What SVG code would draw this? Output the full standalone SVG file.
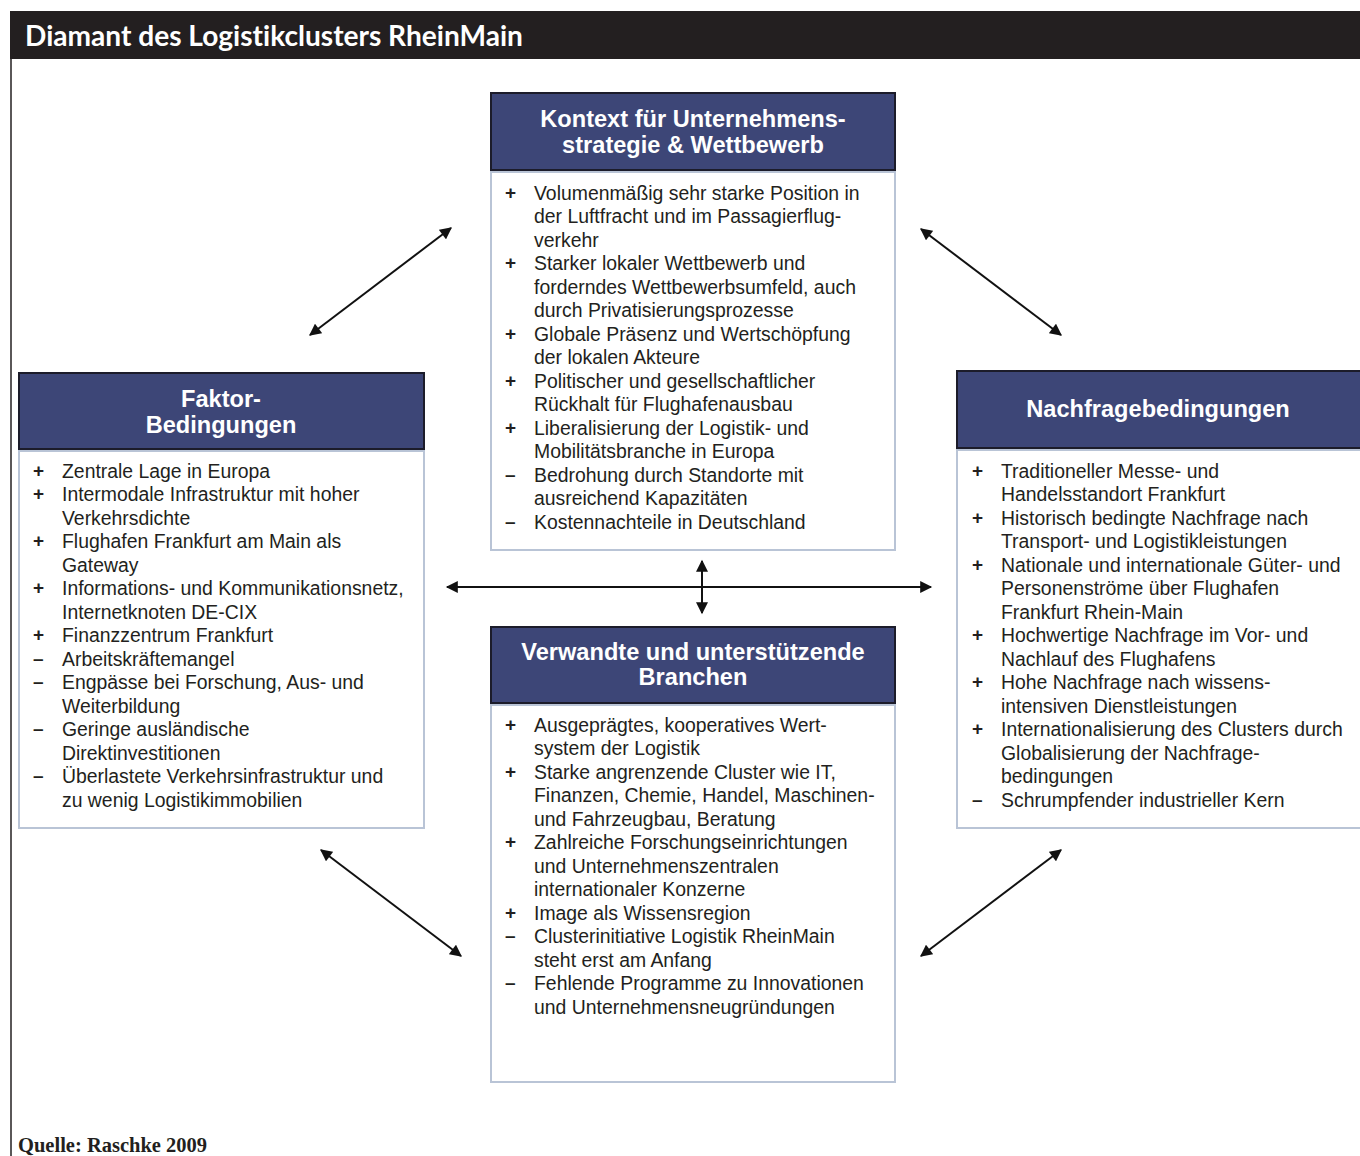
<svg xmlns="http://www.w3.org/2000/svg" width="1360" height="1156" viewBox="0 0 1360 1156">
<defs>
<marker id="ah" viewBox="0 0 10 10" refX="9" refY="5" markerWidth="6.5" markerHeight="6" orient="auto-start-reverse" markerUnits="strokeWidth">
<path d="M0,0 L10,5 L0,10 z" fill="#111"/>
</marker>
<style>
.hd{fill:#3d4677;stroke:#1c1c2a;stroke-width:2}
.bd{fill:#fff;stroke:#b9c4d6;stroke-width:2}
.ht{font-family:"Liberation Sans",Arial,sans-serif;font-weight:bold;font-size:23.6px;fill:#fff;text-anchor:middle}
.tx{font-family:"Liberation Sans",Arial,sans-serif;font-size:19.4px;fill:#231f20}
.sg{font-family:"Liberation Sans",Arial,sans-serif;font-size:19px;font-weight:bold;fill:#231f20}
.cn{stroke:#111;stroke-width:2;fill:none;marker-start:url(#ah);marker-end:url(#ah)}
</style>
</defs>
<rect x="0" y="0" width="1360" height="1156" fill="#fff"/>
<rect x="10" y="11" width="1350" height="48" fill="#231f20"/>
<line x1="11" y1="59" x2="11" y2="1156" stroke="#231f20" stroke-width="1.5"/>
<text x="25" y="46" font-family="Lato,'Open Sans',sans-serif" font-weight="bold" font-size="28.1" fill="#fff" style="font-variant-ligatures:none">Diamant des Logistikclusters RheinMain</text>
<text x="18" y="1152" font-family="'Liberation Serif','DejaVu Serif',serif" font-weight="bold" font-size="20.5" fill="#231f20">Quelle: Raschke 2009</text>

<g id="connectors">
<line class="cn" x1="310" y1="335" x2="451" y2="228"/>
<line class="cn" x1="921" y1="229" x2="1061" y2="335"/>
<line class="cn" x1="321" y1="850" x2="461" y2="956"/>
<line class="cn" x1="921" y1="956" x2="1061" y2="850"/>
<line class="cn" x1="447" y1="587" x2="931" y2="587"/>
<line class="cn" x1="702" y1="561" x2="702" y2="613"/>
</g>

<g id="node-top">
<rect class="bd" x="491" y="172" width="404" height="378"/>
<rect class="hd" x="491" y="93" width="404" height="77"/>
<text class="ht" x="693" y="127">Kontext für Unternehmens-</text>
<text class="ht" x="693" y="153">strategie &amp; Wettbewerb</text>
<g class="tx">
<text class="sg" x="505" y="199">+</text><text x="534" y="200">Volumenmäßig sehr starke Position in</text>
<text x="534" y="223">der Luftfracht und im Passagierflug-</text>
<text x="534" y="247">verkehr</text>
<text class="sg" x="505" y="269">+</text><text x="534" y="270">Starker lokaler Wettbewerb und</text>
<text x="534" y="294">forderndes Wettbewerbsumfeld, auch</text>
<text x="534" y="317">durch Privatisierungsprozesse</text>
<text class="sg" x="505" y="340">+</text><text x="534" y="341">Globale Präsenz und Wertschöpfung</text>
<text x="534" y="364">der lokalen Akteure</text>
<text class="sg" x="505" y="387">+</text><text x="534" y="388">Politischer und gesellschaftlicher</text>
<text x="534" y="411">Rückhalt für Flughafenausbau</text>
<text class="sg" x="505" y="434">+</text><text x="534" y="435">Liberalisierung der Logistik- und</text>
<text x="534" y="458">Mobilitätsbranche in Europa</text>
<text class="sg" x="505" y="481">–</text><text x="534" y="482">Bedrohung durch Standorte mit</text>
<text x="534" y="505">ausreichend Kapazitäten</text>
<text class="sg" x="505" y="528">–</text><text x="534" y="529">Kostennachteile in Deutschland</text>
</g>
</g>

<g id="node-left">
<rect class="bd" x="19" y="451" width="405" height="377"/>
<rect class="hd" x="19" y="373" width="405" height="76"/>
<text class="ht" x="221" y="407">Faktor-</text>
<text class="ht" x="221" y="433">Bedingungen</text>
<g class="tx">
<text class="sg" x="33" y="477">+</text><text x="62" y="478">Zentrale Lage in Europa</text>
<text class="sg" x="33" y="500">+</text><text x="62" y="501">Intermodale Infrastruktur mit hoher</text>
<text x="62" y="525">Verkehrsdichte</text>
<text class="sg" x="33" y="547">+</text><text x="62" y="548">Flughafen Frankfurt am Main als</text>
<text x="62" y="572">Gateway</text>
<text class="sg" x="33" y="594">+</text><text x="62" y="595">Informations- und Kommunikationsnetz,</text>
<text x="62" y="619">Internetknoten DE-CIX</text>
<text class="sg" x="33" y="641">+</text><text x="62" y="642">Finanzzentrum Frankfurt</text>
<text class="sg" x="33" y="665">–</text><text x="62" y="666">Arbeitskräftemangel</text>
<text class="sg" x="33" y="688">–</text><text x="62" y="689">Engpässe bei Forschung, Aus- und</text>
<text x="62" y="713">Weiterbildung</text>
<text class="sg" x="33" y="735">–</text><text x="62" y="736">Geringe ausländische</text>
<text x="62" y="760">Direktinvestitionen</text>
<text class="sg" x="33" y="782">–</text><text x="62" y="783">Überlastete Verkehrsinfrastruktur und</text>
<text x="62" y="807">zu wenig Logistikimmobilien</text>
</g>
</g>

<g id="node-right">
<rect class="bd" x="957" y="450" width="410" height="378"/>
<rect class="hd" x="957" y="371" width="410" height="77"/>
<text class="ht" x="1158" y="417">Nachfragebedingungen</text>
<g class="tx">
<text class="sg" x="972" y="477">+</text><text x="1001" y="478">Traditioneller Messe- und</text>
<text x="1001" y="501">Handelsstandort Frankfurt</text>
<text class="sg" x="972" y="524">+</text><text x="1001" y="525">Historisch bedingte Nachfrage nach</text>
<text x="1001" y="548">Transport- und Logistikleistungen</text>
<text class="sg" x="972" y="571">+</text><text x="1001" y="572">Nationale und internationale Güter- und</text>
<text x="1001" y="595">Personenströme über Flughafen</text>
<text x="1001" y="619">Frankfurt Rhein-Main</text>
<text class="sg" x="972" y="641">+</text><text x="1001" y="642">Hochwertige Nachfrage im Vor- und</text>
<text x="1001" y="666">Nachlauf des Flughafens</text>
<text class="sg" x="972" y="688">+</text><text x="1001" y="689">Hohe Nachfrage nach wissens-</text>
<text x="1001" y="713">intensiven Dienstleistungen</text>
<text class="sg" x="972" y="735">+</text><text x="1001" y="736">Internationalisierung des Clusters durch</text>
<text x="1001" y="760">Globalisierung der Nachfrage-</text>
<text x="1001" y="783">bedingungen</text>
<text class="sg" x="972" y="806">–</text><text x="1001" y="807">Schrumpfender industrieller Kern</text>
</g>
</g>

<g id="node-bottom">
<rect class="bd" x="491" y="705" width="404" height="377"/>
<rect class="hd" x="491" y="627" width="404" height="76"/>
<text class="ht" x="693" y="660">Verwandte und unterstützende</text>
<text class="ht" x="693" y="685">Branchen</text>
<g class="tx">
<text class="sg" x="505" y="731">+</text><text x="534" y="732">Ausgeprägtes, kooperatives Wert-</text>
<text x="534" y="755">system der Logistik</text>
<text class="sg" x="505" y="778">+</text><text x="534" y="779">Starke angrenzende Cluster wie IT,</text>
<text x="534" y="802">Finanzen, Chemie, Handel, Maschinen-</text>
<text x="534" y="826">und Fahrzeugbau, Beratung</text>
<text class="sg" x="505" y="848">+</text><text x="534" y="849">Zahlreiche Forschungseinrichtungen</text>
<text x="534" y="873">und Unternehmenszentralen</text>
<text x="534" y="896">internationaler Konzerne</text>
<text class="sg" x="505" y="919">+</text><text x="534" y="920">Image als Wissensregion</text>
<text class="sg" x="505" y="942">–</text><text x="534" y="943">Clusterinitiative Logistik RheinMain</text>
<text x="534" y="967">steht erst am Anfang</text>
<text class="sg" x="505" y="989">–</text><text x="534" y="990">Fehlende Programme zu Innovationen</text>
<text x="534" y="1014">und Unternehmensneugründungen</text>
</g>
</g>
</svg>
